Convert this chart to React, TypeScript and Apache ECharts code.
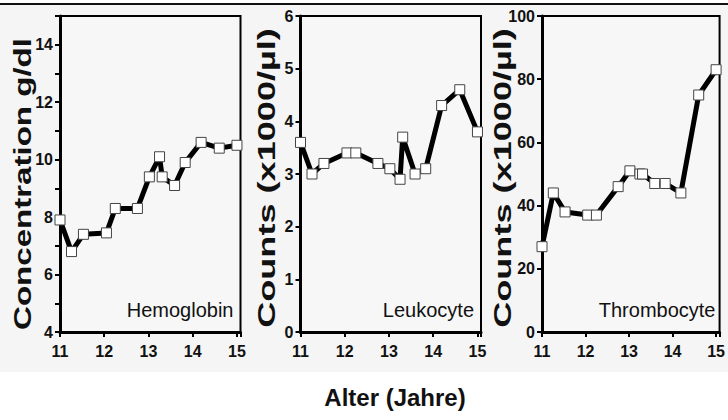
import React, { useEffect, useRef } from "react";
import * as echarts from "echarts";

const ages = [11, 11.26, 11.53, 12.05, 12.25, 12.75, 13.02, 13.25, 13.31, 13.59, 13.83, 14.19, 14.6, 15];
const hemoglobin = [7.9, 6.8, 7.4, 7.45, 8.3, 8.3, 9.4, 10.1, 9.4, 9.1, 9.9, 10.6, 10.4, 10.5];
const leukocyte = [3.6, 3.0, 3.2, 3.4, 3.4, 3.2, 3.1, 2.9, 3.7, 3.0, 3.1, 4.3, 4.6, 3.8];
const thrombocyte = [27, 44, 38, 37, 37, 46, 51, 50, 50, 47, 47, 44, 75, 83];
const panelNames = ["Hemoglobin", "Leukocyte", "Thrombocyte"];
const yTitles = ["Concentration g/dl", "Counts (x1000/\u00b5l)", "Counts (x1000/\u00b5l)"];
const xTitle = "Alter (Jahre)";
const yRanges = [
  { min: 4, max: 15, interval: 1, labelStep: 2 },
  { min: 0, max: 6, interval: 1, labelStep: 1 },
  { min: 0, max: 100, interval: 20, labelStep: 20 },
];

export default function App() {
  const ref = useRef<HTMLDivElement>(null);
  useEffect(() => {
    document.body.style.margin = "0";
    if (!ref.current) return;
    const chart = echarts.init(ref.current, null, { renderer: "svg" });
    const lefts = [60, 300.5, 542];
    const W = 180.5;
    const top = 16;
    const H = 316;
    const series = [hemoglobin, leukocyte, thrombocyte];
    const font = "'Liberation Sans', Arial, sans-serif";
    const grids = lefts.map((l) => ({
      left: l,
      top,
      width: W,
      height: H,
      show: true,
      borderColor: "#000",
      borderWidth: 2,
      backgroundColor: "#f7f7f7",
      containLabel: false,
    }));
    const xAxes = lefts.map((_, i) => ({
      type: "value",
      gridIndex: i,
      min: 11,
      max: 15.08,
      interval: 1,
      splitLine: { show: false },
      axisLine: { lineStyle: { color: "#000", width: 3 } },
      axisTick: { show: true, length: 5, lineStyle: { color: "#000", width: 2 } },
      axisLabel: {
        color: "#111",
        fontWeight: "bold",
        fontSize: 16,
        fontFamily: font,
        margin: 11,
        formatter: (v: number) => (Number.isInteger(v) ? String(v) : ""),
      },
    }));
    const yAxes = yRanges.map((r, i) => ({
      type: "value",
      gridIndex: i,
      min: r.min,
      max: r.max,
      interval: r.interval,
      splitLine: { show: false },
      axisLine: { show: true, lineStyle: { color: "#000", width: 3 } },
      axisTick: { show: true, length: 5, lineStyle: { color: "#000", width: 2 } },
      axisLabel: {
        color: "#111",
        fontWeight: "bold",
        fontSize: 16,
        fontFamily: font,
        margin: 7,
        formatter: (v: number) => (v % r.labelStep === 0 ? String(v) : ""),
      },
    }));
    const seriesList = series.map((vals, i) => ({
      type: "line",
      xAxisIndex: i,
      yAxisIndex: i,
      data: ages.map((a, j) => [a, vals[j]]),
      lineStyle: { color: "#000", width: 5 },
      symbol: "rect",
      symbolSize: 10,
      itemStyle: { color: "#fff", borderColor: "#444", borderWidth: 1 },
      z: 5,
    }));
    const titleX = [23, 267, 503];
    const titleY = [184, 178, 178];
    const titleLen = [292, 300, 300];
    const measure = (t: string, f: string) => {
      const c = document.createElement("canvas").getContext("2d")!;
      c.font = f;
      return c.measureText(t).width;
    };
    const tFont = `bold 23px ${font}`;
    const graphics: any[] = [
      { type: "rect", shape: { x: 0, y: 5, width: 728, height: 367 }, style: { fill: "#f5f5f5" }, z: -10 },
      { type: "rect", shape: { x: 0, y: 3, width: 728, height: 2 }, style: { fill: "#111" }, z: 10 },
      {
        type: "text",
        x: 395,
        y: 397,
        style: { text: xTitle, font: `bold 24px ${font}`, fill: "#111", textAlign: "center", textVerticalAlign: "middle" },
      },
    ];
    yTitles.forEach((t, i) => {
      const w = measure(t, tFont);
      graphics.push({
        type: "text",
        x: titleX[i],
        y: titleY[i],
        rotation: Math.PI / 2,
        scaleX: titleLen[i] / w,
        style: { text: t, font: tFont, fill: "#111", textAlign: "center", textVerticalAlign: "middle" },
        z: 20,
      });
      graphics.push({
        type: "text",
        x: lefts[i] + W - 7,
        y: 310,
        style: { text: panelNames[i], font: `20px ${font}`, fill: "#111", textAlign: "right", textVerticalAlign: "middle" },
        z: 20,
      });
    });
    chart.setOption({
      animation: false,
      backgroundColor: "#fff",
      grid: grids,
      xAxis: xAxes,
      yAxis: yAxes,
      series: seriesList,
      graphic: graphics,
    });
    return () => chart.dispose();
  }, []);
  return <div ref={ref} style={{ width: 728, height: 420 }} />;
}
